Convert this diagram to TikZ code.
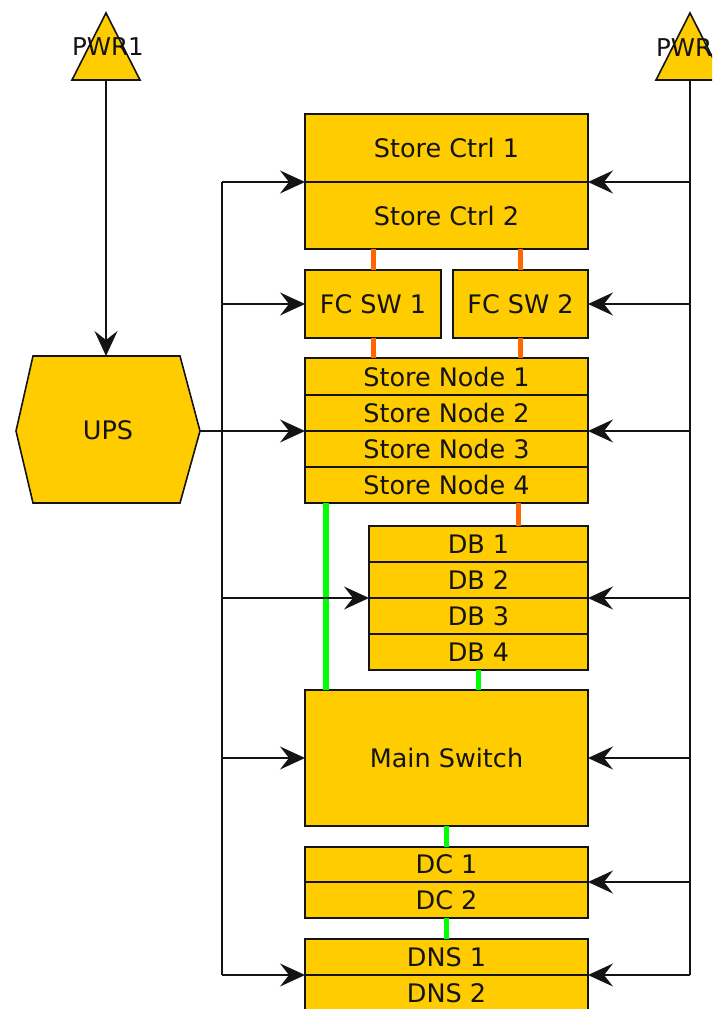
\documentclass[tikz,border=0pt]{standalone}
\usepackage{fontspec}
\setmainfont{DejaVu Sans}
\usetikzlibrary{arrows.meta}
\definecolor{boxfill}{RGB}{255,204,0}
\definecolor{orlink}{RGB}{255,102,0}
\definecolor{grlink}{RGB}{0,255,0}
\definecolor{ink}{RGB}{20,20,20}
\tikzset{
  box/.style={draw=ink, fill=boxfill, line width=1.6pt, inner sep=0pt, outer sep=0pt, text=ink,
    font=\fontsize{25.5}{30}\selectfont},
  wide/.style={box, minimum width=283pt},
  dbw/.style={box, minimum width=219pt},
  conn/.style={draw=ink, line width=1.6pt},
  arr/.style={conn, -{Stealth[length=25pt, width=23pt, inset=9pt]}},
  orl/.style={draw=orlink, line width=5pt},
  grl/.style={draw=grlink, line width=5.5pt},
  lbl/.style={text=ink, inner sep=0pt, font=\fontsize{24.5}{28}\selectfont}
}
\begin{document}
\begin{tikzpicture}[x=1pt, y=-1pt]
\useasboundingbox (0,0) rectangle (712,1009);
\clip (0,0) rectangle (712,1009);
\fill[white] (0,0) rectangle (712,1009);

% power triangles
\draw[box] (72,80) -- (106,13) -- (140,80) -- cycle;
\draw[box] (656,80) -- (690,13) -- (724,80) -- cycle;
\node[lbl] (p1) at (108,47) {PWR1};
\node[lbl] (p2) at (692,47) {PWR2};
\coordinate (p1b) at (106,80);
\coordinate (p2b) at (690,80);

% UPS hexagon
\draw[box] (33,356) -- (180,356) -- (200,431) -- (180,503) -- (33,503) -- (16,431) -- cycle;
\node[lbl, font=\fontsize{25.5}{30}\selectfont] (ups) at (108,430) {UPS};
\coordinate (upsT) at (106,356);
\coordinate (upsR) at (200,431);

% boxes
\node[wide, minimum height=68pt] (sc1) at (446.5,148) {Store Ctrl 1};
\node[wide, minimum height=67pt] (sc2) at (446.5,215.5) {Store Ctrl 2};
\node[box, minimum width=136pt, minimum height=68pt] (fc1) at (373,304) {FC SW 1};
\node[box, minimum width=135pt, minimum height=68pt] (fc2) at (520.5,304) {FC SW 2};
\node[wide, minimum height=37pt] (sn1) at (446.5,376.5) {Store Node 1};
\node[wide, minimum height=36pt] (sn2) at (446.5,413) {Store Node 2};
\node[wide, minimum height=36pt] (sn3) at (446.5,449) {Store Node 3};
\node[wide, minimum height=36pt] (sn4) at (446.5,485) {Store Node 4};
\node[dbw, minimum height=36pt] (db1) at (478.5,544) {DB 1};
\node[dbw, minimum height=36pt] (db2) at (478.5,580) {DB 2};
\node[dbw, minimum height=36pt] (db3) at (478.5,616) {DB 3};
\node[dbw, minimum height=36pt] (db4) at (478.5,652) {DB 4};
\node[wide, minimum height=136pt] (ms) at (446.5,758) {Main Switch};
\node[wide, minimum height=35pt] (dc1) at (446.5,864.5) {DC 1};
\node[wide, minimum height=36pt] (dc2) at (446.5,900) {DC 2};
\node[wide, minimum height=36pt] (dns1) at (446.5,957) {DNS 1};
\node[wide, minimum height=36pt] (dns2) at (446.5,993) {DNS 2};

% coloured links
\draw[orl] (fc1.north) -- (fc1.north |- sc2.south);
\draw[orl] (fc2.north) -- (fc2.north |- sc2.south);
\draw[orl] (fc1.south) -- (fc1.south |- sn1.north);
\draw[orl] (fc2.south) -- (fc2.south |- sn1.north);
\coordinate (oDB) at (518,526);
\draw[orl] (oDB) -- (oDB |- sn4.south);
\coordinate (gTop) at (326,503);
\draw[grl] (gTop) -- (gTop |- ms.north);
\draw[grl] (db4.south) -- (db4.south |- ms.north);
\draw[grl] (ms.south) -- (dc1.north);
\draw[grl] (dc2.south) -- (dns1.north);

% left bus
\coordinate (lTop) at (222,182);
\coordinate (lBot) at (222,975);
\draw[conn] (lTop) -- (lBot);
\draw[arr] (p1b) -- (upsT);
\draw[arr] (lTop) -- (sc1.south west);
\draw[arr] (lTop |- fc1.west) -- (fc1.west);
\draw[arr] (upsR) -- (sn2.south west);
\draw[arr] (lTop |- db2.south west) -- (db2.south west);
\draw[arr] (lTop |- ms.west) -- (ms.west);
\draw[arr] (lBot) -- (dns1.south west);

% right bus
\coordinate (rBot) at (690,975);
\draw[conn] (p2b) -- (rBot);
\draw[arr] (p2b |- sc1.south east) -- (sc1.south east);
\draw[arr] (p2b |- fc2.east) -- (fc2.east);
\draw[arr] (p2b |- sn2.south east) -- (sn2.south east);
\draw[arr] (p2b |- db2.south east) -- (db2.south east);
\draw[arr] (p2b |- ms.east) -- (ms.east);
\draw[arr] (p2b |- dc1.south east) -- (dc1.south east);
\draw[arr] (rBot) -- (dns1.south east);
\end{tikzpicture}
\end{document}
